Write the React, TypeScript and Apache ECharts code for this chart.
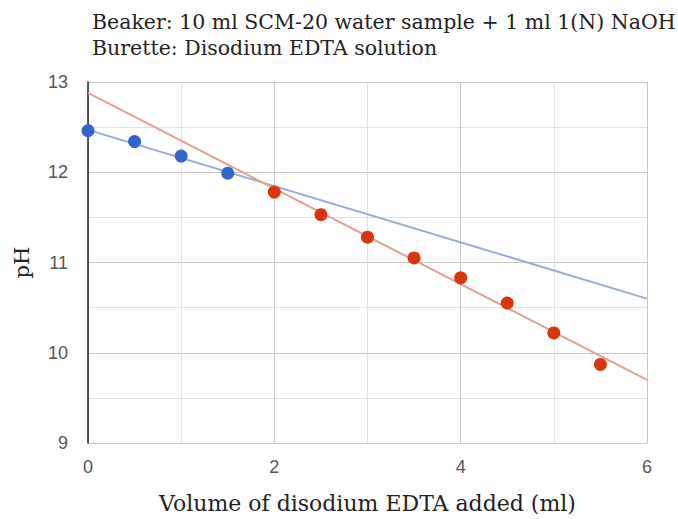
import React, { useEffect, useRef } from "react";
import * as echarts from "echarts";

const titleLines = [
  "Beaker: 10 ml SCM-20 water sample + 1 ml 1(N) NaOH",
  "Burette: Disodium EDTA solution",
];
const xName = "Volume of disodium EDTA added (ml)";
const yName = "pH";

const blueX = [0, 0.5, 1, 1.5];
const blueY = [12.46, 12.34, 12.18, 11.99];
const redX = [2, 2.5, 3, 3.5, 4, 4.5, 5, 5.5];
const redY = [11.78, 11.53, 11.28, 11.05, 10.83, 10.55, 10.22, 9.87];

const blueTrendX = [0, 6];
const blueTrendY = [12.47, 10.6];
const redTrendX = [0, 6];
const redTrendY = [12.88, 9.7];

const zip = (xs: number[], ys: number[]) => xs.map((x, i) => [x, ys[i]]);

export default function App() {
  const ref = useRef<HTMLDivElement>(null);
  useEffect(() => {
    document.body.style.margin = "0";
    const chart = echarts.init(ref.current!, null, { renderer: "svg" });
    const serif = "DejaVu Serif";
    const sans = "Liberation Sans";
    chart.setOption({
      animation: false,
      backgroundColor: "#ffffff",
      title: {
        text: titleLines.join("\n"),
        left: 92,
        top: 9,
        padding: 0,
        textStyle: {
          fontFamily: serif,
          fontSize: 20.5,
          fontWeight: "normal",
          color: "#222",
          lineHeight: 26,
        },
      },
      grid: { left: 88, right: 31, top: 82, bottom: 74 },
      xAxis: {
        type: "value",
        min: 0,
        max: 6,
        interval: 2,
        name: xName,
        nameLocation: "middle",
        nameGap: 49,
        nameTextStyle: { fontFamily: serif, fontSize: 22, color: "#222" },
        axisLine: { show: false },
        axisTick: { show: false },
        axisLabel: { fontFamily: sans, fontSize: 18, color: "#555", margin: 15 },
        splitLine: { show: true, lineStyle: { color: "#c6c6c6", width: 1 } },
        minorTick: { show: false, splitNumber: 2 },
        minorSplitLine: { show: true, lineStyle: { color: "#e2e2e2", width: 1 } },
      },
      yAxis: {
        type: "value",
        min: 9,
        max: 13,
        interval: 1,
        name: yName,
        nameLocation: "middle",
        nameRotate: 90,
        nameGap: 56,
        nameTextStyle: { fontFamily: serif, fontSize: 21, color: "#222" },
        axisLine: { show: true, lineStyle: { color: "#222", width: 1.5 } },
        axisTick: { show: false },
        axisLabel: { fontFamily: sans, fontSize: 18, color: "#555", margin: 20 },
        splitLine: { show: true, lineStyle: { color: "#c6c6c6", width: 1 } },
        minorTick: { show: false, splitNumber: 2 },
        minorSplitLine: { show: true, lineStyle: { color: "#e2e2e2", width: 1 } },
      },
      series: [
        {
          type: "line",
          data: zip(blueTrendX, blueTrendY),
          symbol: "none",
          lineStyle: { color: "#98acd6", width: 2 },
          z: 2,
        },
        {
          type: "line",
          data: zip(redTrendX, redTrendY),
          symbol: "none",
          lineStyle: { color: "#e4a091", width: 2 },
          z: 2,
        },
        {
          type: "scatter",
          data: zip(blueX, blueY),
          symbolSize: 13,
          itemStyle: { color: "#3366cc", opacity: 1 },
          z: 3,
        },
        {
          type: "scatter",
          data: zip(redX, redY),
          symbolSize: 13,
          itemStyle: { color: "#d9360f", opacity: 1 },
          z: 3,
        },
      ],
    });
    return () => chart.dispose();
  }, []);
  return <div ref={ref} style={{ width: 678, height: 519 }} />;
}
